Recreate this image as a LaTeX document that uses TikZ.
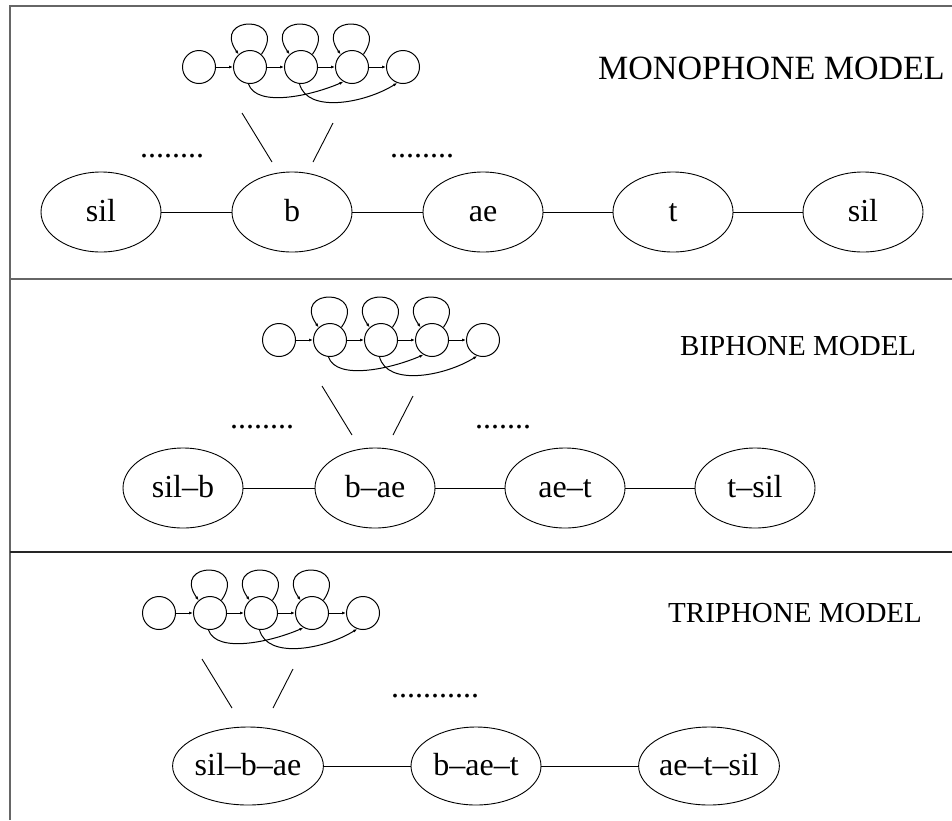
\documentclass[tikz,border=0pt]{standalone}
\usepackage{fontspec}
\setmainfont{Liberation Serif}
\usetikzlibrary{shapes.geometric,arrows.meta}
\newcommand\hmmchain[3]{%
  \foreach \i in {1,...,5} \node[st] (#1\i) at ({#2+51*(\i-1)},#3) {};
  \foreach \i/\j in {1/2,2/3,3/4,4/5} \draw[tr] (#1\i) -- (#1\j);
  \foreach \i in {2,3,4} \draw[tr] (#1\i.48) .. controls +(28,-40) and +(-28,-40) .. (#1\i.132);
  \draw[tr] (#12.-95) .. controls +(8,24) and +(-32,14) .. (#14.240);
  \draw[tr] (#13.-95) .. controls +(8,30) and +(-32,20) .. (#15.250);
  \coordinate (#1a1) at ({#2+43},{#3+46});
  \coordinate (#1a2) at ({#2+73},{#3+95});
  \coordinate (#1b1) at ({#2+134},{#3+56});
  \coordinate (#1b2) at ({#2+114},{#3+95});
  \draw[link] (#1a1) -- (#1a2);
  \draw[link] (#1b1) -- (#1b2);
}
\begin{document}
\begin{tikzpicture}[x=1pt,y=-1pt,
  frame/.style={draw=black!60,line width=1.6pt},
  phone/.style={draw,ellipse,line width=0.9pt,minimum width=120pt,minimum height=80pt,inner sep=0pt,
    text height=22pt,text depth=4pt,font=\fontsize{32}{34}\selectfont},
  wide/.style={minimum width=130pt,minimum height=78pt},
  link/.style={line width=0.9pt},
  st/.style={draw,circle,line width=1pt,minimum size=33pt,inner sep=0pt},
  tr/.style={line width=1pt,-{Latex[length=4pt,width=3pt]}},
  title/.style={anchor=base west,inner sep=0pt},
  dots/.style={anchor=base,inner sep=0pt,font=\fontsize{32}{34}\selectfont}]
\useasboundingbox (0,0) rectangle (952,820);
\fill[white] (0,0) rectangle (952,820);
% frame
\coordinate (fbl) at (10,820);
\coordinate (ftl) at (10,6);
\coordinate (ftr) at (952,6);
\coordinate (s1l) at (10,279);
\coordinate (s1r) at (952,279);
\coordinate (s2l) at (10,552);
\coordinate (s2r) at (952,552);
\draw[frame] (fbl) -- (ftl) -- (ftr);
\draw[frame] (s1l) -- (s1r);
\draw[frame,draw=black!85] (s2l) -- (s2r);
% ---------- monophone
\hmmchain{m}{199}{67}
\node[title,font=\fontsize{34}{36}\selectfont] (tm) at (598,79) {MONOPHONE MODEL};
\node[dots] (dm1) at (172,157) {........};
\node[dots] (dm2) at (422,157) {........};
\node[phone] (p1) at (101,212) {sil};
\node[phone] (p2) at (292,212) {b};
\node[phone] (p3) at (483,212) {ae};
\node[phone] (p4) at (673,212) {t};
\node[phone] (p5) at (863,212) {sil};
\draw[link] (p1) -- (p2) (p2) -- (p3) (p3) -- (p4) (p4) -- (p5);
% ---------- biphone
\hmmchain{b}{279}{340}
\node[title,font=\fontsize{29}{31}\selectfont] (tb) at (680,355) {BIPHONE MODEL};
\node[dots] (db1) at (262,428) {........};
\node[dots] (db2) at (503,428) {.......};
\node[phone] (q1) at (183,488) {sil–b};
\node[phone] (q2) at (375,488) {b–ae};
\node[phone] (q3) at (565,488) {ae–t};
\node[phone] (q4) at (755,488) {t–sil};
\draw[link] (q1) -- (q2) (q2) -- (q3) (q3) -- (q4);
% ---------- triphone
\hmmchain{t}{159}{613}
\node[title,font=\fontsize{29}{31}\selectfont] (tt) at (668,622) {TRIPHONE MODEL};
\node[dots] (dt1) at (435,697) {...........};
\node[phone,wide] (r1) at (248,766) {sil–b–ae};
\node[phone,wide] (r2) at (476,766) {b–ae–t};
\node[phone,wide] (r3) at (709,766) {ae–t–sil};
\draw[link] (r1) -- (r2) (r2) -- (r3);
\end{tikzpicture}
\end{document}
